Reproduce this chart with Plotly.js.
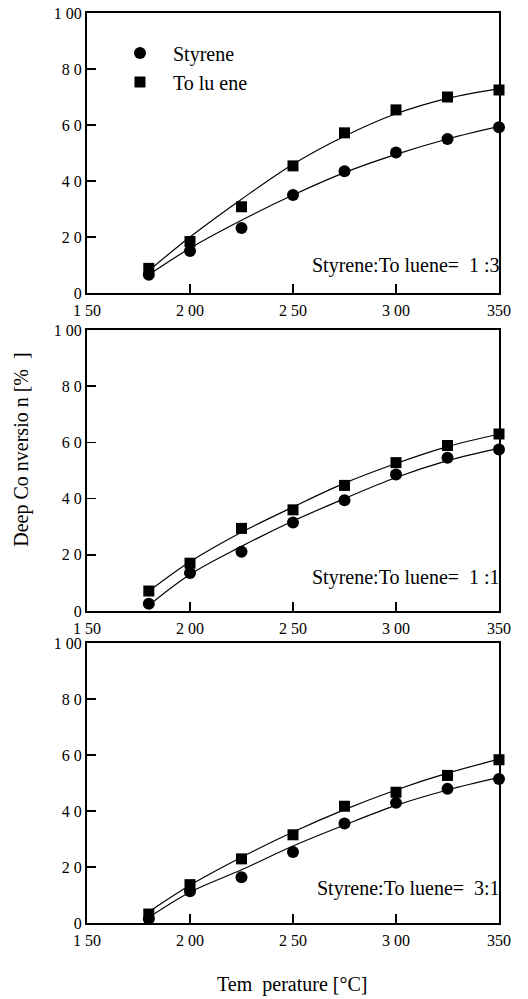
<!DOCTYPE html>
<html><head><meta charset="utf-8">
<script src="https://cdn.plot.ly/plotly-3.0.1.min.js"></script>
<style>html,body{margin:0;padding:0;background:#fff}</style>
</head><body><div id="chart" style="width:528px;height:999px"></div>
<script>
const temps = [180, 200, 225, 250, 275, 300, 325, 350];
// Panel 1: Styrene:Toluene = 1:3
const sty13 = [6.5, 15, 23.2, 35, 43.5, 50.2, 55, 59.2];
const tol13 = [8.8, 18.4, 30.8, 45.4, 57.2, 65.4, 70, 72.5];
const sty13Fit = [6.5, 16, 26, 35, 43, 49.5, 55, 59.5];
const tol13Fit = [8, 20, 33.5, 46, 56, 64, 69.5, 73];
// Panel 2: 1:1
const sty11 = [2.6, 13.5, 21.1, 31.5, 39.4, 48.6, 54.5, 57.5];
const tol11 = [7.1, 17, 29.4, 36, 44.7, 52.8, 58.9, 63];
const sty11Fit = [2, 13, 23, 32, 40, 47.5, 53.5, 58];
const tol11Fit = [7, 17.5, 28, 37, 45.5, 52.5, 58.5, 63];
// Panel 3: 3:1
const sty31 = [1.4, 11.3, 16.3, 25.4, 35.5, 42.9, 47.9, 51.4];
const tol31 = [3.2, 13.7, 22.9, 31.5, 41.7, 46.7, 52.7, 58.3];
const sty31Fit = [2, 11, 19, 27.5, 35, 42, 47.5, 52];
const tol31Fit = [4, 13.5, 23.5, 32.5, 40.5, 47.5, 53.5, 58.5];

const xTickVals = [150, 200, 250, 300, 350];
const xTickText = ["1 50", "2 00", "2 50", "3 00", "350"];
const yTickVals = [0, 20, 40, 60, 80, 100];
const yTickText = ["0", "2 0", "4 0", "6 0", "8 0", "1 00"];
const ratioLabels = ["Styrene:To luene=  1 :3", "Styrene:To luene=  1 :1", "Styrene:To luene=  3:1"];
const seriesNames = ["Styrene", "To lu ene"];

const FONT = "'Liberation Serif', 'Times New Roman', serif";
const panels = [
  {s: sty13, t: tol13, sf: sty13Fit, tf: tol13Fit},
  {s: sty11, t: tol11, sf: sty11Fit, tf: tol11Fit},
  {s: sty31, t: tol31, sf: sty31Fit, tf: tol31Fit}
];
const domains = [[0.6923, 1], [0.3429, 0.6516], [0, 0.3077]];
const annY = [0.722, 0.380, 0.0374];

const traces = [];
const layout = {
  width: 528, height: 999,
  margin: {l: 87, r: 29, t: 13, b: 76},
  paper_bgcolor: '#fff', plot_bgcolor: '#fff',
  font: {family: FONT, color: '#000', size: 16},
  showlegend: true,
  legend: {x: 0.0485, y: 0.9775, xanchor: 'left', yanchor: 'top', bgcolor: 'rgba(0,0,0,0)',
           font: {family: FONT, size: 20, color: '#000'}, tracegroupgap: 0, itemwidth: 56},
  annotations: []
};

panels.forEach((p, i) => {
  const n = i === 0 ? '' : String(i + 1);
  const xa = 'x' + n, ya = 'y' + n;
  traces.push({x: temps, y: p.sf, xaxis: xa, yaxis: ya, mode: 'lines', line: {shape: 'spline', color: '#000', width: 1.2}, showlegend: false, hoverinfo: 'skip'});
  traces.push({x: temps, y: p.tf, xaxis: xa, yaxis: ya, mode: 'lines', line: {shape: 'spline', color: '#000', width: 1.2}, showlegend: false, hoverinfo: 'skip'});
  traces.push({x: temps, y: p.s, xaxis: xa, yaxis: ya, mode: 'markers', name: seriesNames[0], cliponaxis: false,
    marker: {symbol: 'circle', size: 12, color: '#000'}, showlegend: i === 0});
  traces.push({x: temps, y: p.t, xaxis: xa, yaxis: ya, mode: 'markers', name: seriesNames[1], cliponaxis: false,
    marker: {symbol: 'square', size: 11, color: '#000'}, showlegend: i === 0});

  layout['xaxis' + n] = {
    domain: [0, 1], anchor: ya, range: [150, 350], tickvals: xTickVals, ticktext: xTickText,
    ticks: 'inside', ticklen: 9, tickwidth: 1.5, tickcolor: '#000', ticklabelstandoff: 2,
    showline: true, linecolor: '#000', linewidth: 2, mirror: true, showgrid: false, zeroline: false,
    tickfont: {family: FONT, size: 16, color: '#000'}
  };
  layout['yaxis' + n] = {
    domain: domains[i], anchor: xa, range: [0, 100], tickvals: yTickVals, ticktext: yTickText,
    ticks: 'inside', ticklen: 9, tickwidth: 1.5, tickcolor: '#000',
    showline: true, linecolor: '#000', linewidth: 2, mirror: true, showgrid: false, zeroline: false,
    tickfont: {family: FONT, size: 16, color: '#000'}
  };
  layout.annotations.push({text: ratioLabels[i], xref: 'paper', yref: 'paper', x: 1.008, y: annY[i],
    xanchor: 'right', yanchor: 'middle', showarrow: false, font: {family: FONT, size: 20, color: '#000'}});
});

layout.annotations.push({text: 'Deep Co nversio n [%  ]', xref: 'paper', yref: 'paper', x: -0.158, y: 0.52,
  textangle: -90, showarrow: false, xanchor: 'center', yanchor: 'middle', font: {family: FONT, size: 20, color: '#000'}});
layout.annotations.push({text: 'Tem  perature [°C]', xref: 'paper', yref: 'paper', x: 0.4976, y: -0.0681,
  showarrow: false, xanchor: 'center', yanchor: 'middle', font: {family: FONT, size: 20, color: '#000'}});

Plotly.newPlot('chart', traces, layout, {displayModeBar: false, staticPlot: true});
</script></body></html>
